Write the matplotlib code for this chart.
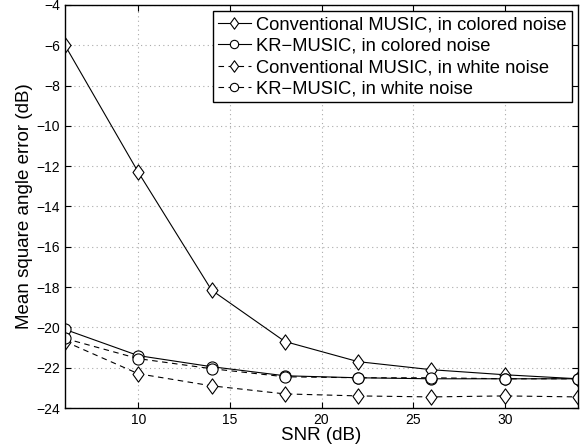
import matplotlib
matplotlib.use("Agg")
import matplotlib.pyplot as plt
from matplotlib.path import Path

plt.rcParams['font.family'] = ['Liberation Sans', 'DejaVu Sans']

snr = [6, 10, 14, 18, 22, 26, 30, 34]
conv_colored = [-6.0, -12.3, -18.15, -20.7, -21.7, -22.1, -22.35, -22.55]
kr_colored = [-20.1, -21.4, -21.95, -22.4, -22.5, -22.55, -22.55, -22.55]
conv_white = [-20.7, -22.3, -22.9, -23.3, -23.4, -23.45, -23.4, -23.45]
kr_white = [-20.55, -21.55, -22.05, -22.45, -22.5, -22.5, -22.55, -22.55]

labels = ["Conventional MUSIC, in colored noise",
          "KR\u2212MUSIC, in colored noise",
          "Conventional MUSIC, in white noise",
          "KR\u2212MUSIC, in white noise"]

diamond = Path([(0, 1), (0.72, 0), (0, -1), (-0.72, 0), (0, 1)],
               [Path.MOVETO, Path.LINETO, Path.LINETO, Path.LINETO, Path.CLOSEPOLY])

fig = plt.figure(figsize=(5.85, 4.48), dpi=100)
ax = fig.add_axes([65/585, 1-408/448, (578-65)/585, (408-5)/448])

mk = dict(markerfacecolor='white', markeredgecolor='black', markeredgewidth=0.8)
ax.plot(snr, conv_colored, '-', color='black', lw=0.8, marker=diamond, markersize=11, label=labels[0], **mk)
ax.plot(snr, kr_colored, '-', color='black', lw=0.8, marker='o', markersize=8, label=labels[1], **mk)
ax.plot(snr, conv_white, '--', color='black', lw=0.8, marker=diamond, markersize=11, label=labels[2], dashes=(5, 4), **mk)
ax.plot(snr, kr_white, '--', color='black', lw=0.8, marker='o', markersize=8, label=labels[3], dashes=(5, 4), **mk)

ax.set_xlim(6, 34)
ax.set_ylim(-24, -4)
ax.set_xticks([10, 15, 20, 25, 30])
ax.set_yticks(range(-24, -3, 2))
ax.tick_params(direction='in', top=True, right=True, labelsize=10, length=4)
ax.grid(True, linestyle=(0, (1, 3)), color='#aaaaaa', lw=0.8)
for s in ax.spines.values():
    s.set_linewidth(1.0)
ax.set_xlabel("SNR (dB)", fontsize=13.5, labelpad=0)
ax.set_ylabel("Mean square angle error (dB)", fontsize=13.5, labelpad=2)

leg = ax.legend(loc='upper right', fontsize=13.2, fancybox=False, framealpha=1,
                edgecolor='black', handlelength=1.8, handletextpad=0.3,
                borderpad=0.25, labelspacing=0.25, borderaxespad=0.35,
                markerscale=0.75)
leg.get_frame().set_linewidth(1.0)

fig.savefig("out.png", dpi=100)
